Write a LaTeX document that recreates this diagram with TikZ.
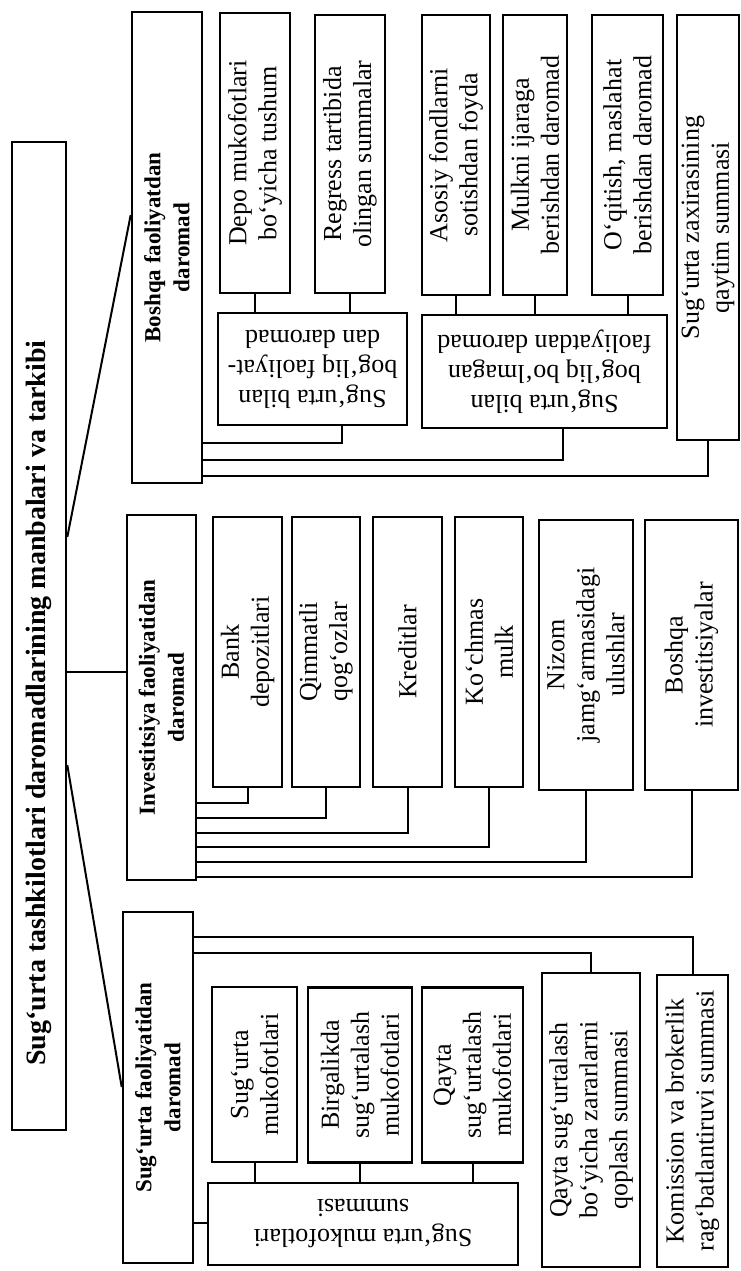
\documentclass[tikz,border=0pt]{standalone}
\usepackage{fontspec}
\setmainfont{Liberation Serif}
\usepackage{tikz}

\begin{document}
\begin{tikzpicture}[x=1pt, y=-1pt,
  box/.style={draw, line width=2.6pt, align=center, inner sep=1pt, font=\fontsize{26}{30}\selectfont},
  vbox/.style={box, rotate=90},
  rbox/.style={box, rotate=180},
  headbox/.style={vbox, font=\bfseries\fontsize{23}{29}\selectfont},
  link/.style={line width=2pt}]
\useasboundingbox (0,0) rectangle (741,1271);

% title and the three sources
\node[headbox, font=\bfseries\fontsize{28}{32}\selectfont, minimum width=988pt, minimum height=54pt] (title) at (39,636) {Sug‘urta tashkilotlari daromadlarining manbalari va tarkibi\hspace*{134pt}};
\node[headbox, minimum width=471pt, minimum height=70pt] (boshqa) at (167,247.5) {Boshqa faoliyatdan\\daromad};
\node[headbox, minimum width=365pt, minimum height=69pt] (invest) at (161.5,697.5) {Investitsiya faoliyatidan\\daromad};
\node[headbox, minimum width=351pt, minimum height=70pt] (sugurta) at (158,1087.5) {Sug‘urta faoliyatidan\\daromad};

\draw[link] (title.south |- 0,537) -- (boshqa.north |- 0,215);
\draw[link] (title.south |- 0,672) -- (invest.north |- 0,672);
\draw[link] (title.south |- 0,765) -- (sugurta.north |- 0,1087);

% boshqa faoliyat
\node[vbox, minimum width=280pt, minimum height=70pt] (depo) at (255,153) {Depo mukofotlari\\bo‘yicha tushum};
\node[vbox, minimum width=278pt, minimum height=70pt] (regress) at (350,154) {Regress tartibida\\olingan summalar};
\node[rbox, minimum width=189pt, minimum height=112pt] (bogliq) at (312.5,369) {Sug‘urta bilan\\bog‘liq faoliyat-\\dan daromad};
\node[vbox, minimum width=280pt, minimum height=68pt] (asosiy) at (456,155) {Asosiy fondlarni\\sotishdan foyda};
\node[vbox, minimum width=280pt, minimum height=64pt] (mulkni) at (535,155) {Mulkni ijaraga\\berishdan daromad};
\node[vbox, minimum width=280pt, minimum height=71pt] (oqitish) at (627.5,155) {O‘qitish, maslahat\\berishdan daromad};
\node[rbox, minimum width=245pt, minimum height=113pt] (boglmas) at (544.5,371.5) {Sug‘urta bilan\\bog‘liq bo‘lmagan\\faoliyatdan daromad};
\node[vbox, minimum width=425pt, minimum height=62pt] (zaxira) at (708,227.5) {Sug‘urta zaxirasining\\qaytim summasi};

\draw[link] (boshqa.south |- 0,443) -| (bogliq.north -| 342,0);
\draw[link] (boshqa.south |- 0,460) -| (boglmas.north -| 563,0);
\draw[link] (boshqa.south |- 0,476) -| (zaxira.west);
\draw[link] (depo.west) -- (depo.west |- bogliq.south);
\draw[link] (regress.west) -- (regress.west |- bogliq.south);
\draw[link] (asosiy.west) -- (asosiy.west |- boglmas.south);
\draw[link] (mulkni.west) -- (mulkni.west |- boglmas.south);
\draw[link] (oqitish.west) -- (oqitish.west |- boglmas.south);

% investitsiya faoliyati
\node[vbox, minimum width=270pt, minimum height=69pt] (bank) at (247.5,652) {Bank\\depozitlari};
\node[vbox, minimum width=270pt, minimum height=68pt] (qimmatli) at (326,652) {Qimmatli\\qog‘ozlar};
\node[vbox, minimum width=270pt, minimum height=69pt] (kredit) at (407.5,652) {Kreditlar};
\node[vbox, minimum width=270pt, minimum height=68pt] (kochmas) at (489,652) {Ko‘chmas\\mulk};
\node[vbox, minimum width=270pt, minimum height=94pt] (nizom) at (586,655) {Nizom\\jamg‘armasidagi\\ulushlar};
\node[vbox, minimum width=270pt, minimum height=93pt] (boshqainv) at (691.5,655) {Boshqa\\investitsiyalar};

\draw[link] (invest.south |- 0,803) -| (bank.west);
\draw[link] (invest.south |- 0,818) -| (qimmatli.west);
\draw[link] (invest.south |- 0,833) -| (kredit.west);
\draw[link] (invest.south |- 0,847) -| (kochmas.west);
\draw[link] (invest.south |- 0,862) -| (nizom.west);
\draw[link] (invest.south |- 0,877) -| (boshqainv.west);

% sug'urta faoliyati
\node[vbox, minimum width=175pt, minimum height=85pt] (mukofot) at (254.5,1074.5) {Sug‘urta\\mukofotlari};
\node[vbox, minimum width=175pt, minimum height=104pt] (birgalik) at (360,1075) {Birgalikda\\sug‘urtalash\\mukofotlari};
\node[vbox, minimum width=175pt, minimum height=101pt] (qayta) at (472.5,1075) {Qayta\\sug‘urtalash\\mukofotlari};
\node[rbox, minimum width=310pt, minimum height=82pt] (mukjami) at (363,1224) {Sug‘urta mukofotlari\\summasi};
\node[vbox, minimum width=294pt, minimum height=98pt] (zarar) at (591,1120) {Qayta sug‘urtalash\\bo‘yicha zararlarni\\qoplash summasi};
\node[vbox, minimum width=292pt, minimum height=71pt] (komission) at (692.5,1121) {Komission va brokerlik\\rag‘batlantiruvi summasi};

\draw[link] (sugurta.south |- 0,1223) -- (mukjami.east |- 0,1223);
\draw[link] (sugurta.south |- 0,937) -| (komission.east);
\draw[link] (sugurta.south |- 0,953) -| (zarar.east);
\draw[link] (mukofot.west) -- (mukofot.west |- mukjami.south);
\draw[link] (birgalik.west) -- (birgalik.west |- mukjami.south);
\draw[link] (qayta.west) -- (qayta.west |- mukjami.south);
\end{tikzpicture}
\end{document}
